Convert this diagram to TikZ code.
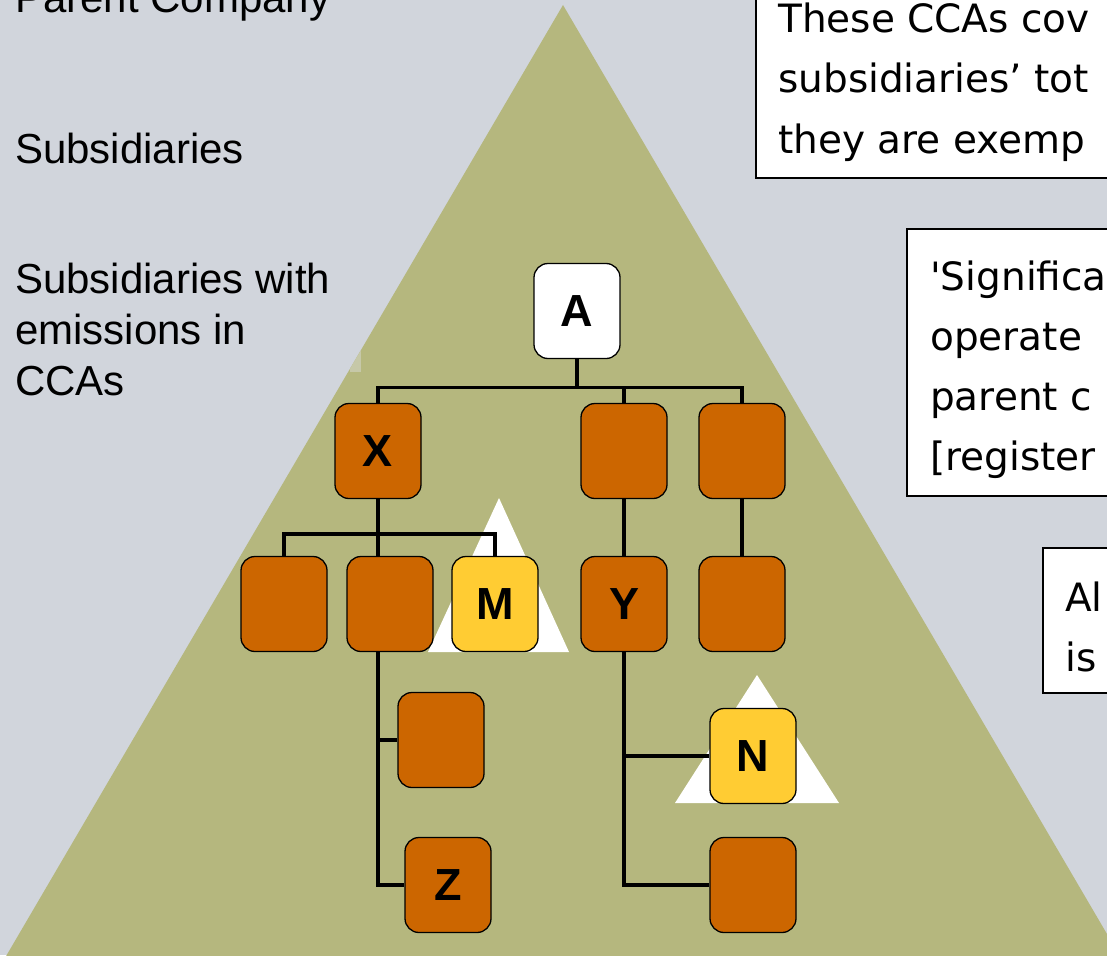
\documentclass[tikz,border=0pt]{standalone}
\usepackage{fontspec}
\setmainfont{Liberation Sans}
\newfontfamily\boxfont[Ligatures=TeXOff]{DejaVu Sans}
\definecolor{slidebg}{RGB}{209,213,220}
\definecolor{pyr}{RGB}{181,183,126}
\definecolor{orgbox}{RGB}{204,102,0}
\definecolor{ylwbox}{RGB}{255,204,51}
\definecolor{patch}{RGB}{198,200,168}
\pgfdeclarelayer{bglayer}
\pgfdeclarelayer{lines}
\pgfsetlayers{bglayer,lines,main}
\begin{document}
\begin{tikzpicture}[x=1pt,y=-1pt,
  unit/.style={draw=black, line width=1.3pt, rounded corners=14pt, minimum width=86pt, minimum height=95pt, inner sep=0pt, font=\fontsize{45}{45}\selectfont\bfseries},
  orgunit/.style={unit, fill=orgbox},
  ylwunit/.style={unit, fill=ylwbox},
  whiteunit/.style={unit, fill=white},
  conn/.style={draw=black, line width=3.3pt},
  infobox/.style={draw=black, line width=1.5pt, fill=white},
  lefttext/.style={anchor=base west, inner sep=0pt, align=left, font=\fontsize{42}{51}\selectfont},
  boxtext/.style={anchor=base west, inner sep=0pt, align=left, font=\boxfont\fontsize{39}{60}\selectfont},
  hilite/.style={fill=white}
]
\useasboundingbox (0,0) rectangle (1107,955);
\begin{pgfonlayer}{bglayer}
\clip (0,0) rectangle (1107,955);
\fill[slidebg] (0,0) rectangle (1107,955);
% pyramid
\fill[pyr] (563,5) -- (-5,975) -- (1131,975) -- cycle;
\begin{scope}
  \clip (563,5) -- (-5,975) -- (1131,975) -- cycle;
  \fill[patch] (350,351) rectangle (361,372);
\end{scope}
% left labels (anchor = baseline of the last line)
\node[lefttext] (lparent) at (15,13) {Parent Company};
\node[lefttext] (lsubs) at (15,163) {Subsidiaries};
\node[lefttext] (lsubscca) at (15,395) {Subsidiaries with\\emissions in\\CCAs};
% info boxes on the right
\path[infobox] (756,-10) rectangle (1130,178);
\node[boxtext] (t1) at (778,153) {These CCAs cov\\subsidiaries’ tot\\they are exemp};
\path[infobox] (907,229) rectangle (1130,496);
\node[boxtext] (t2) at (930,470) {'Significa\\operate\\parent c\\{}[register};
\path[infobox] (1043,548) rectangle (1130,693);
\node[boxtext] (t3) at (1065,671) {Al\\is};
% highlight triangles
\fill[hilite] (499,498) -- (428,652) -- (569,652) -- cycle;
\fill[hilite] (757,675) -- (675,803) -- (839,803) -- cycle;
\end{pgfonlayer}

% org units
\node[whiteunit] (A) at (577,311) {A};
\node[orgunit] (X) at (378,451) {X};
\node[orgunit] (B2) at (624,451) {};
\node[orgunit] (B3) at (742,451) {};
\node[orgunit] (R1) at (284,604) {};
\node[orgunit] (R2) at (390,604) {};
\node[ylwunit] (M) at (495,604) {M};
\node[orgunit] (Y) at (624,604) {Y};
\node[orgunit] (R5) at (742,604) {};
\node[orgunit] (R3) at (441,740) {};
\node[orgunit] (Z) at (448,885) {Z};
\node[ylwunit] (N) at (753,756) {N};
\node[orgunit] (L) at (753,885) {};

% connectors, behind the units
\begin{pgfonlayer}{lines}
\draw[conn] (A.south) -- ++(0,28) coordinate (bus1);
\draw[conn] (X.north) |- (bus1) -| (B3.north);
\draw[conn] (bus1 -| B2.north) -- (B2.north);
\draw[conn] (X.south) -- (X.south |- R2.north);
\draw[conn] (R1.north) -- ++(0,-22) -| (M.north);
\draw[conn] (X.south |- R2.south) |- (R3.west);
\draw[conn] (X.south |- R2.south) |- (Z.west);
\draw[conn] (B2.south) -- (Y.north);
\draw[conn] (Y.south) |- (N.west);
\draw[conn] (Y.south) |- (L.west);
\draw[conn] (B3.south) -- (R5.north);
\end{pgfonlayer}
\end{tikzpicture}
\end{document}
